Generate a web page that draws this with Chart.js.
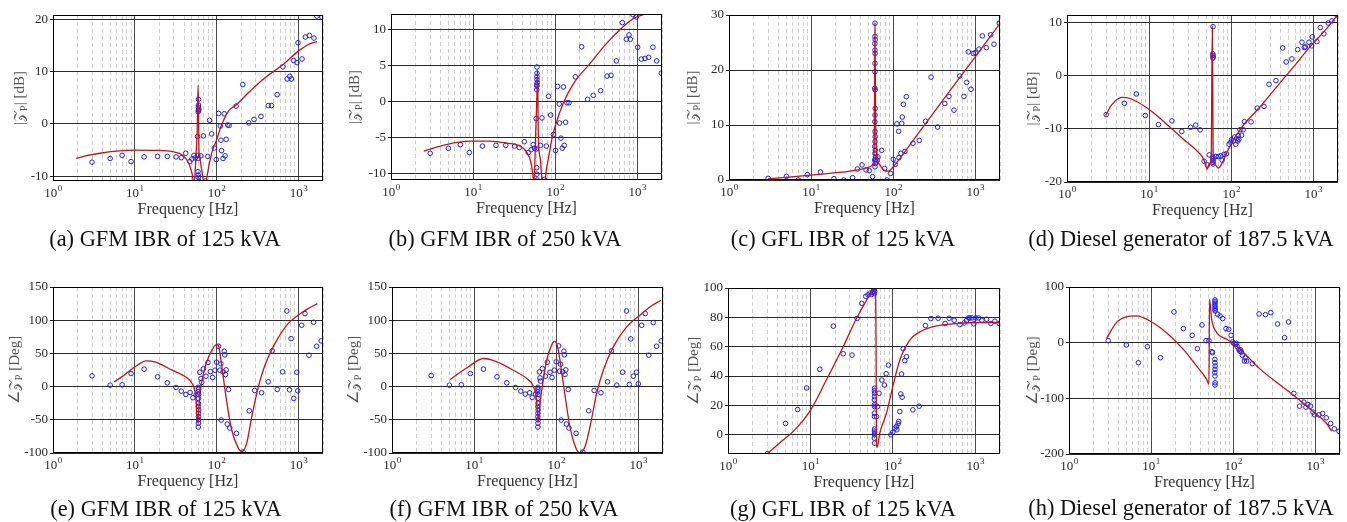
<!DOCTYPE html>
<html>
<head>
<meta charset="utf-8">
<script src="https://cdn.jsdelivr.net/npm/chart.js@4.4.1/dist/chart.umd.min.js"></script>
<style>
  body { margin: 0; background: #fff; width: 1347px; height: 522px; position: relative; overflow: hidden; font-family: "Liberation Serif", serif; }
  canvas { position: absolute; }
  .cap { position: absolute; font-size: 22.4px; line-height: 1; color: #111; white-space: nowrap; transform: translate(-50%, -50%); }
</style>
</head>
<body>
<script>
// shared x axis (log frequency)
const xTickValues = [1,2,3,4,5,6,7,8,9,10,20,30,40,50,60,70,80,90,100,200,300,400,500,600,700,800,900,1000,2000];
const xDecades = [0, 1, 2, 3];

// y tick labels per panel
const aTicks = [-10, 0, 10, 20];
const bTicks = [-10, -5, 0, 5, 10];
const cTicks = [0, 10, 20, 30];
const dTicks = [-20, -10, 0, 10];
const eTicks = [-100, -50, 0, 50, 100, 150];
const fTicks = [-100, -50, 0, 50, 100, 150];
const gTicks = [0, 20, 40, 60, 80, 100];
const hTicks = [-200, -100, 0, 100];

const captions = [
  "(a) GFM IBR of 125 kVA", "(b) GFM IBR of 250 kVA", "(c) GFL IBR of 125 kVA", "(d) Diesel generator of 187.5 kVA",
  "(e) GFM IBR of 125 kVA", "(f) GFM IBR of 250 kVA", "(g) GFL IBR of 125 kVA", "(h) Diesel generator of 187.5 kVA"
];

// model curves [Hz, value]
const aLine = [[1.92,-6.6],[2.5,-6.1],[3.76,-5.6],[6,-5.2],[10,-5.0],[18.3,-5.05],[29,-5.3],[38.6,-6.0],[45.7,-7.5],[50,-9.4],[53,-11.5],[56,-6],[58,-1],[59.4,7.4],[60.3,0],[61,-5.5],[62,-6.3],[65,-8.3],[68.5,-10.5],[71,-11.6],[72.5,-11.6],[77.6,-9.4],[83,-7],[89.4,-5],[100,-3.1],[113,-0.5],[142,2.6],[173,3.6],[250,6.1],[398,8.9],[632,11.2],[1000,13.9],[1336,15.2],[1686,15.7]];
const bLine = [[2.5,-6.9],[4,-6.2],[6.4,-5.7],[10,-5.5],[16.2,-5.5],[25.9,-5.8],[37.6,-6.2],[45.4,-7.1],[50.7,-8.5],[53.7,-10.4],[55,-11.6],[58,-4],[60,1],[61,4.3],[62,-3],[63,-6.2],[66,-8],[70,-11.6],[74,-11.6],[78,-9.5],[83,-7.8],[90,-5.5],[100,-3.45],[126,-0.2],[168,2.5],[268,5.3],[428,8.1],[682,10.4],[903,11.5],[1253,12.1],[1700,12.6]];
const cLine = [[3,0.2],[10,0.9],[30,1.6],[45,2.1],[52,2.4],[57,3],[59,10],[60,28.5],[61,12],[62,6],[64,3.8],[69,2.7],[77,1.8],[88,1.6],[100,2.4],[200,8.4],[500,16.4],[1000,22.4],[1960,28.3]];
const dLine = [[2.95,-7.5],[3.5,-5.5],[4.67,-4.1],[5.9,-4.3],[10.3,-6.5],[18,-9.7],[28.8,-12.5],[38,-14.1],[45.9,-15.6],[49,-16.8],[50.9,-17.6],[54,-16.6],[57,-15.8],[58.9,9.2],[60.3,-15.5],[64,-16.8],[70,-17.4],[76,-16.7],[84,-15.3],[100,-12.8],[140,-9.35],[224,-5.9],[358,-2.1],[571,1.6],[910,5.4],[1452,8.85],[1977,11.4]];
const eLine = [[5.6,7.2],[7,15],[9.4,27.3],[11,33],[13.6,38.8],[18,36.8],[28.7,24.7],[41.6,14.7],[50.2,4.7],[55,-10.3],[59.3,-55.4],[61,-30],[63,-8],[66.4,9.7],[72,28],[80,44.8],[88,55],[96.3,62.3],[102,63],[106,60.8],[116,29.8],[134,-25.4],[153,-65.4],[185,-93],[203,-98],[233,-85.5],[269,-45.4],[324,-0.3],[390,32.3],[516,64.8],[748,94.9],[990,107.4],[1310,117.4],[1701,125]];
const fLine = [[5.1,10.7],[8.2,28.3],[13,42.3],[19,37.3],[30,24.7],[43.8,12.2],[51.8,2.2],[57,-15.3],[60.8,-52.9],[63,-30],[66.7,-5.3],[76.7,39.8],[85,58],[92.5,67.3],[97,68],[106,54.8],[122,4.7],[147,-60.4],[178,-95.4],[195,-99.5],[224,-90.5],[258,-60.4],[311,-10.3],[375,24.7],[496,59.8],[721,89.9],[1047,107.4],[1385,119.9],[1884,130]];
const gLine = [[3,-12.9],[4.2,-5.7],[6.2,2.3],[10.1,17],[15.6,37.3],[25,60],[36.2,79.2],[47.9,91.6],[57.7,98.9],[60.4,100.2],[62,99],[62.8,50],[63.3,-5],[64.5,-8.6],[69.5,1.1],[83.8,14.7],[100,32.8],[121.7,50.9],[160.7,64.5],[213,70.1],[339,74.2],[593,75.8],[1141,76.5],[1995,76.5]];
const hLine = [[2.86,7.2],[3.78,36],[5,46.2],[6.64,48],[9.66,39],[15.4,18],[24.7,-12],[35.9,-42],[47.5,-66],[50.7,-75],[51.5,78],[54.7,42],[63,18],[83.6,6],[100,-1.2],[134,-18],[215,-48],[343,-72],[549,-94.8],[877,-120],[1403,-147],[1585,-159]];

// measured points [Hz, value]
const aMeas = [[3,-7.3],[5,-6.6],[7,-6.0],[9,-7.2],[13,-6.3],[19,-6.2],[25,-6.2],[32,-6.3],[37,-6.45],[42,-5.6],[47,-7.2],[50,-6.7],[53,-6.0],[55,-6.5],[60,4.7],[60,3.2],[60,2.6],[59.7,2.3],[60.5,2.8],[60,3.6],[58.5,-2.4],[59,-6.0],[59.5,-6.6],[59.3,-9.1],[59.6,-9.75],[59.8,-10.2],[60.5,-10.9],[64,-6.1],[69,-2.3],[73,-10.9],[78,-6.2],[82,0.7],[87,-1.9],[94,-4.6],[99,-6.8],[106,2.0],[111,-0.4],[113,-3.1],[115,-5.1],[120,-6.6],[124,1.95],[127,-6.1],[131,-2.95],[137,-0.2],[142.5,-0.3],[173,3.4],[209,7.5],[247,0.2],[287,0.86],[349,1.44],[428,3.5],[470,3.5],[550,5.6],[646,10.9],[728,8.6],[785,9.1],[822,8.6],[877,12.1],[964,11.7],[990,15.5],[1108,12.4],[1217,16.6],[1361,16.9],[1549,16.4],[1686,20.6],[1938,20.4]];
const bMeas = [[3,-7.2],[5,-6.5],[7,-6.0],[9,-7.1],[13,-6.2],[19,-6.1],[25,-6.1],[32,-6.2],[36.6,-6.4],[42,-5.6],[47,-7.1],[51,-6.7],[54,-6.0],[56,-6.5],[60,4.75],[60,3.9],[60,3.4],[60,3.0],[60.3,2.6],[59.7,2.3],[60,2.1],[59.6,1.6],[58.6,-2.4],[59,-6.6],[59.5,-9.2],[59.7,-10.1],[60.5,-10.9],[66,-6.1],[69,-2.3],[73.7,-10.8],[78,-6.2],[83,0.7],[88,-1.9],[95,-4.6],[101,-6.8],[107,2.07],[112,-0.37],[113,-3.0],[117.5,-5.1],[122,-6.5],[126,2.0],[129,-6.1],[134,-2.9],[139,-0.2],[147,-0.2],[176,3.4],[210,7.56],[248,0.28],[291,0.83],[358,1.47],[428,3.5],[479,3.6],[556,5.6],[658,10.9],[735,8.6],[793,9.2],[822,8.6],[887,12.0],[973,11.7],[1011,7.5],[1120,5.85],[1241,5.95],[1375,6.1],[1550,7.5],[1722,5.6],[1962,3.9]];
const cMeas = [[3,0.3],[5,0.67],[7,0],[9,0.97],[13,1.45],[19,0.24],[25,0],[32,0.42],[36.6,2.0],[41.7,2.73],[46.7,1.82],[51.2,1.7],[56,0.6],[60,28.5],[60,26.1],[60.3,25.5],[59.8,24.8],[60,23.6],[60.2,23.0],[60,21.2],[60,19.7],[59.7,16.7],[60.2,16.4],[60.4,13.0],[60,11.8],[59.8,10.6],[60,8.8],[60.3,7.9],[60,7.0],[59.6,6.1],[60.5,5.45],[60,4.85],[61,4.24],[59.5,3.64],[60.8,3.0],[60,2.4],[62,3.3],[64,3.6],[65,4.2],[72.4,5.4],[78.7,2.1],[84,0],[93,1.2],[100,3.76],[106,2.85],[111,10.2],[116.6,8.85],[117.5,4.06],[124,4.85],[127,10.3],[129,11.45],[133,13.76],[139,5.2],[144.5,15.15],[174,6.67],[208,7.2],[248,10.67],[289,18.7],[347,9.63],[426,13.9],[478,15.2],[550,12.7],[646,18.9],[728,15.2],[785,17.75],[822,23.3],[887,16.5],[946,23.0],[1000,23.15],[1109,23.8],[1218,26.2],[1362,24.06],[1539,26.4],[1690,24.7],[1962,28.5]];
const dMeas = [[3,-7.34],[5,-5.2],[7,-3.45],[9,-7.5],[13,-9.2],[19,-8.5],[25,-10.5],[32,-9.7],[37,-9.3],[41.8,-10.2],[46.8,-16.1],[51.4,-16.8],[54,-14.9],[60,9.2],[59.8,4.1],[60,3.8],[60.2,3.5],[60,3.3],[59.8,-15.3],[60,-15.6],[60.2,-16.0],[60,-16.3],[60.1,-16.6],[64.9,-15.2],[69.9,-15.2],[74.6,-15.07],[77.4,-15.9],[81.8,-14.8],[87.4,-14.7],[94.3,-12.9],[98.7,-12.5],[101,-12.05],[106,-12.3],[110,-11.55],[113.5,-12.9],[117,-11.8],[120,-12.3],[122,-11.3],[124,-12.0],[128,-10.17],[134,-11.2],[140,-10.17],[145,-8.66],[174.5,-8.7],[208,-6.1],[251,-5.78],[289,-1.63],[351,-0.94],[423,5.2],[468,2.57],[549,3.14],[645,4.9],[728,6.28],[777,5.3],[800,5.4],[885,6.28],[955,5.6],[972,7.28],[1107,6.4],[1216,9.04],[1346,7.85],[1520,9.9],[1686,10.3],[1938,11.4]];
const eMeas = [[3,16.2],[5,2.2],[7,2.7],[9,19.7],[13,26.3],[19,14.7],[25,5.7],[32,-1.3],[37,-6.8],[42,-11.8],[47.5,-8.8],[51.5,-16.8],[56,-12.8],[59.8,-1],[60,-4],[59.7,-8],[60.2,-12],[59.9,-18],[60,-25],[59.8,-30],[60.2,-35],[60,-40],[59.9,-45],[60.1,-50],[60,-55],[59.8,-61],[62.2,21.7],[64.5,12.2],[65.8,6.2],[68.9,26.7],[74.2,15.7],[78.5,36.3],[83.8,22.7],[89.4,13.7],[95.5,24.7],[100,36.8],[105.7,60.8],[109.7,24.7],[114,-50.4],[113,34.3],[120,22.2],[124,53.3],[126,47.8],[128.6,18.2],[131,25.2],[135,-56.4],[140,-4.3],[145,-62.4],[175,-70.4],[211,-98.5],[251,-36.4],[292,-5.8],[355,-9.3],[428,7.2],[479,53.8],[551,-4.3],[640,22.2],[722,113.9],[778,-4.8],[815,72.3],[878,-17.8],[955,21.7],[981,-6.3],[1097,92.4],[1205,109.9],[1349,47.3],[1535,96.9],[1671,60.8],[1902,68.8]];
const fMeas = [[3,16.7],[5,2.2],[7,2.7],[9,19.7],[13,26.3],[19,14.7],[25,5.7],[32,-1.3],[37,-6.8],[42,-11.3],[47.5,-9.3],[51,-16.3],[56,-11.3],[59.8,-1],[60,-4],[59.7,-8],[60.2,-12],[59.9,-18],[60,-25],[59.8,-30],[60.2,-35],[60,-40],[59.9,-45],[60.1,-50],[60,-55],[59.8,-61],[62.5,22.2],[63.5,13.2],[64.5,8.2],[68,27.2],[74,15.7],[78,36.8],[84,21.7],[89,13.7],[95,24.7],[100,37.3],[107,61.3],[110,23.2],[115,-50.4],[113,33.8],[120,22.2],[124,53.3],[126,47.8],[128,18.2],[131,25.2],[133,-56.4],[140,-4.3],[143,-62.4],[175,-70.4],[211,-98.5],[249,-36.4],[290,-5.8],[351,-9.3],[422,7.2],[472,53.8],[547,2.2],[644,21.7],[718,113.9],[778,3.2],[808,71.8],[870,15.7],[950,21.7],[1000,4.2],[1100,92.4],[1215,109.9],[1340,47.3],[1520,96.4],[1670,60.8],[1900,68.8]];
const gMeas = [[3,-12.9],[5,7.7],[7,17.2],[9,31.9],[13,44.6],[19,74.0],[25,55.2],[32,54.3],[36.9,79.2],[42,89.6],[47,94.3],[50,95.3],[53,96.5],[55,95.5],[57,97],[58.5,98],[59.5,99],[60,100.2],[60.3,97.5],[59.8,96.2],[60,31.7],[59.8,30],[60.1,28.3],[60,26],[59.9,23.8],[60,20.4],[60.2,19.2],[59.8,14.7],[60,12.4],[60,3.85],[59.9,2.5],[60.1,1.1],[60,0],[59.8,-2.3],[60,-5.7],[63.4,12.4],[65.1,19.2],[68.2,28.3],[73.5,37.3],[79.2,33.9],[83,41.6],[88.5,47.5],[94.6,0],[100,1.8],[106,4.5],[111,5.7],[112,3.4],[116,7.5],[118,9.05],[121.7,15.8],[125,27.8],[127.5,41.4],[129.8,25.6],[133.6,58.6],[140,50.5],[146.6,53.2],[175,17.0],[209,19.5],[249,74.4],[290,79.2],[355,79.4],[432,75.8],[483,79.4],[556,78],[651,75.1],[735,76.2],[785,78],[830,79.6],[861,79.6],[911,79.6],[963,75.6],[1019,79.6],[1097,79.6],[1205,78],[1374,78.7],[1550,75.8],[1733,77.4],[1955,75.8]];
const hMeas = [[3,3.6],[5,-4.2],[7,-36],[9,-7.2],[13,-27],[19,55.2],[24.7,25.2],[31.7,13.2],[36.6,-10.8],[41.7,31.8],[46.7,3.6],[50.7,3.6],[55,-16.2],[56,-18],[60,76.8],[60,74],[60.2,71],[59.8,68],[60,65],[60.2,62],[60,59],[60.3,57],[59.8,-30],[60,-36],[60.2,-42],[60,-48],[59.8,-54],[60,-60],[60.2,-72],[60,-76],[64.7,51],[69.2,48],[74.5,43.2],[81.8,25.2],[88.2,24],[94.2,13.2],[98.7,1.2],[102,-1.2],[106,-3],[110,-1.2],[112,-7.2],[117,-12],[120,-15],[123,-13],[126,-17],[129.5,-22.8],[137,-33],[139.6,-27],[146,-33],[171,-37.8],[207,51.6],[247,50.4],[287,54],[347,33.6],[422,9],[472,37.2],[548,-91.2],[643,-114],[726,-106.8],[769,-115.8],[813,-111],[877,-114],[936,-124.8],[981,-129.6],[1107,-129.6],[1227,-127.2],[1361,-135],[1538,-145.2],[1706,-154.8],[1944,-159]];

// layout of each subplot: plot box [left, top, width, height], caption centre, y title offset
const panels = [
  { line: aLine, meas: aMeas, yTicks: aTicks, yMin: -10.9, yMax: 20.8, kind: "mag", box: [53, 15, 270, 166], cap: [165, 239], tOff: 33 },
  { line: bLine, meas: bMeas, yTicks: bTicks, yMin: -10.9, yMax: 12.1, kind: "mag", box: [391, 14, 271, 166], cap: [505, 239], tOff: 36 },
  { line: cLine, meas: cMeas, yTicks: cTicks, yMin: 0, yMax: 30, kind: "mag", box: [729, 15, 271, 165], cap: [843, 239], tOff: 36 },
  { line: dLine, meas: dMeas, yTicks: dTicks, yMin: -20, yMax: 11.4, kind: "mag", box: [1067, 15, 271, 167], cap: [1181, 239], tOff: 34 },
  { line: eLine, meas: eMeas, yTicks: eTicks, yMin: -100, yMax: 150, kind: "ang", box: [53, 287, 270, 166], cap: [166, 509], tOff: 38 },
  { line: fLine, meas: fMeas, yTicks: fTicks, yMin: -100, yMax: 150, kind: "ang", box: [392, 287, 271, 166], cap: [504, 509], tOff: 38 },
  { line: gLine, meas: gMeas, yTicks: gTicks, yMin: -13.1, yMax: 100, kind: "ang", box: [728, 288, 272, 166], cap: [843, 509], tOff: 34 },
  { line: hLine, meas: hMeas, yTicks: hTicks, yMin: -200, yMax: 100, kind: "ang", box: [1069, 287, 271, 167], cap: [1181, 508], tOff: 36 }
];

const FONT = "Liberation Serif";
const isDecade = v => Math.abs(Math.log10(v) - Math.round(Math.log10(v))) < 1e-6;

// frame, x tick labels with superscripts, axis titles
const panelDeco = {
  id: "panelDeco",
  afterDraw(chart, args, opts) {
    const { ctx, chartArea: a } = chart;
    const xs = chart.scales.x;
    ctx.save();
    ctx.strokeStyle = "#000";
    ctx.lineWidth = 1;
    ctx.strokeRect(Math.round(a.left) + 0.5, Math.round(a.top) + 0.5, Math.round(a.right - a.left) - 1, Math.round(a.bottom - a.top) - 1);

    ctx.fillStyle = "#2a2a2a";
    ctx.textBaseline = "middle";
    xDecades.forEach(e => {
      const px = xs.getPixelForValue(Math.pow(10, e));
      ctx.font = "13px " + FONT;
      const w1 = ctx.measureText("10").width;
      ctx.font = "9px " + FONT;
      const w2 = ctx.measureText(String(e)).width;
      const x0 = px - (w1 + w2) / 2;
      ctx.font = "13px " + FONT;
      ctx.textAlign = "left";
      ctx.fillText("10", x0, a.bottom + 13);
      ctx.font = "9px " + FONT;
      ctx.fillText(String(e), x0 + w1 + 0.5, a.bottom + 8);
    });

    ctx.fillStyle = "#333";
    ctx.font = "16px " + FONT;
    ctx.textAlign = "center";
    ctx.fillText("Frequency [Hz]", (a.left + a.right) / 2, a.bottom + 29);

    // y title, rotated, with subscript P
    ctx.fillStyle = "#555";
    const parts = opts.kind === "mag"
      ? [{ t: "|", f: "15px " + FONT }, { t: "\u{1D4B5}", f: "14px " + FONT }, { t: "P", f: "10px " + FONT, dy: 4 }, { t: "| [dB]", f: "15px " + FONT }]
      : [{ t: "\u2220", f: "15px " + FONT }, { t: "\u{1D4B5}", f: "14px " + FONT }, { t: "P", f: "10px " + FONT, dy: 4 }, { t: " [Deg]", f: "15px " + FONT }];
    ctx.translate(a.left - opts.tOff, (a.top + a.bottom) / 2);
    ctx.rotate(-Math.PI / 2);
    let total = 0;
    parts.forEach(p => { ctx.font = p.f; p.w = ctx.measureText(p.t).width; total += p.w; });
    let x = -total / 2;
    ctx.textAlign = "left";
    parts.forEach(p => { ctx.font = p.f; ctx.fillText(p.t, x, p.dy || 0); x += p.w; });
    ctx.restore();
  }
};

const padL = 58, padT = 10, padR = 12, padB = 46;

panels.forEach((p, i) => {
  const [L, T, W, H] = p.box;
  const cv = document.createElement("canvas");
  cv.width = W + padL + padR;
  cv.height = H + padT + padB;
  cv.style.left = (L - padL) + "px";
  cv.style.top = (T - padT) + "px";
  document.body.appendChild(cv);

  const cap = document.createElement("div");
  cap.className = "cap";
  cap.textContent = captions[i];
  cap.style.left = p.cap[0] + "px";
  cap.style.top = p.cap[1] + "px";
  document.body.appendChild(cap);

  new Chart(cv, {
    type: "scatter",
    data: {
      datasets: [
        {
          data: p.line.map(([x, y]) => ({ x, y })),
          showLine: true,
          borderColor: "#cc1010",
          borderWidth: 1.3,
          pointRadius: 0,
          cubicInterpolationMode: "monotone",
          clip: 0
        },
        {
          data: p.meas.map(([x, y]) => ({ x, y })),
          pointStyle: "circle",
          pointRadius: 2.3,
          pointBorderWidth: 1,
          borderColor: "#1c1cff",
          backgroundColor: "rgba(0,0,0,0)"
        }
      ]
    },
    options: {
      responsive: false,
      animation: false,
      events: [],
      layout: { padding: { left: 0, top: padT, right: padR, bottom: padB } },
      plugins: { legend: { display: false }, tooltip: { enabled: false }, panelDeco: { kind: p.kind, tOff: p.tOff } },
      scales: {
        x: {
          type: "logarithmic",
          min: 1,
          max: 2000,
          afterBuildTicks: s => { s.ticks = xTickValues.map(v => ({ value: v })); },
          afterFit: s => { s.height = 0; },
          ticks: { display: false, autoSkip: false },
          grid: {
            drawTicks: false,
            color: c => (c.tick && isDecade(c.tick.value) ? "#4a4a4a" : "#c2c2c2"),
            lineWidth: c => (c.tick && isDecade(c.tick.value) ? 1 : 0.8)
          },
          border: { display: false, dash: c => (c.tick && !isDecade(c.tick.value) ? [4, 3] : []) }
        },
        y: {
          min: p.yMin,
          max: p.yMax,
          afterBuildTicks: s => { s.ticks = p.yTicks.map(v => ({ value: v })); },
          afterFit: s => { s.width = padL; },
          ticks: { autoSkip: false, padding: 2, color: "#2a2a2a", font: { family: FONT, size: 13 }, callback: v => String(v) },
          grid: { drawTicks: true, tickLength: 3, tickColor: "#222", color: "#2a2a2a", lineWidth: 1 },
          border: { display: false }
        }
      }
    },
    plugins: [panelDeco]
  });
});
</script>
</body>
</html>
